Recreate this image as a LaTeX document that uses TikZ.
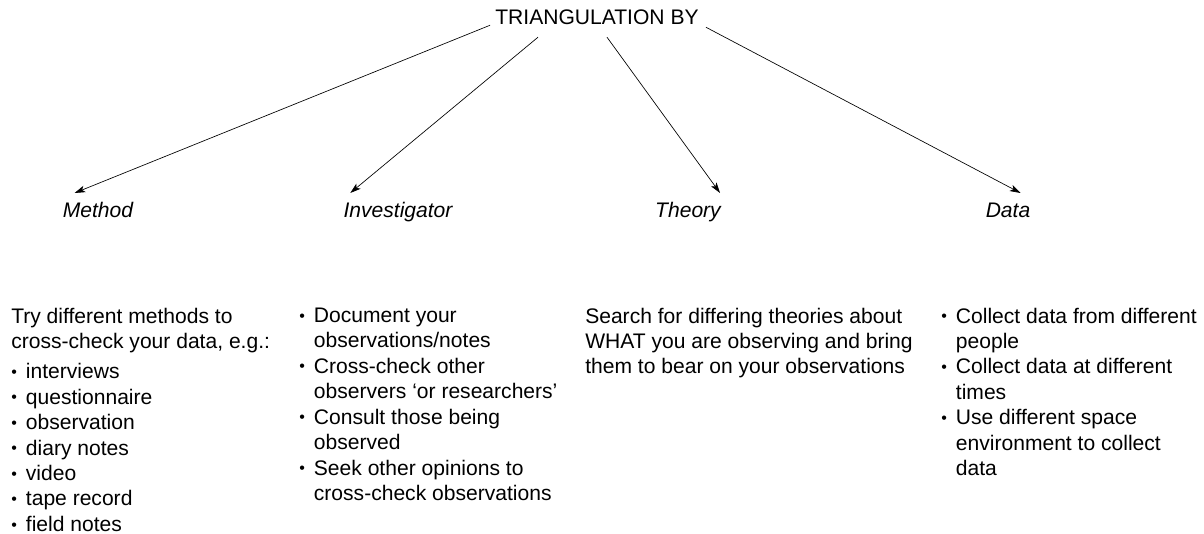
\documentclass[tikz,border=0pt]{standalone}
\usepackage{fontspec}
\setmainfont{Liberation Sans}
\usetikzlibrary{arrows.meta, calc}

% small bullet and the matching indent
\newcommand{\bul}{\makebox[11pt][l]{\raisebox{0.9pt}{\fontsize{12}{12}\selectfont\textbullet}}}
\newcommand{\gap}{\hspace*{11pt}}

\begin{document}
\begin{tikzpicture}[x=0.75pt, y=-0.75pt,
    body/.style={font={\fontsize{15.8}{19.1}\selectfont}, inner sep=0pt},
    branch/.style={font={\fontsize{15.8}{19.1}\selectfont\itshape}, inner sep=0pt, anchor=base},
    block/.style={body, align=left, anchor=north west},
    link/.style={line width=0.5pt, -{Stealth[length=8pt, width=5pt, inset=2pt]}}]
    \useasboundingbox (0,0) rectangle (1204,534);

    % Top of the tree
    \node[body] (title) at (597,17.5) {TRIANGULATION BY};

    % The four kinds, on one baseline
    \node[branch] (method) at (98,218) {Method};
    \node[branch] (investigator) at (398,218) {Investigator};
    \node[branch] (theory) at (688,218) {Theory};
    \node[branch] (data) at (1008,218) {Data};

    % Arrows from the title
    \draw[link] ($(title.south west)+(-5,0)$) -- ($(method.base west)+(12,-25)$);
    \draw[link] ($(title.south)+(-59,12)$) -- ($(investigator.base west)+(7,-25)$);
    \draw[link] ($(title.south)+(10,12)$) -- ($(theory.base east)+(-1,-25)$);
    \draw[link] ($(title.south east)+(7,2)$) -- ($(data.base east)+(-10,-25)$);

    % Text under each kind
    \node[block] (methodtext) at (11,307.5) {Try different methods to\\
        cross-check your data, e.g.:\\[3.5pt]
        \bul interviews\\
        \bul questionnaire\\
        \bul observation\\
        \bul diary notes\\
        \bul video\\
        \bul tape record\\
        \bul field notes};
    \node[block] (investigatortext) at (299,307.5) {\bul Document your\\
        \gap observations/notes\\
        \bul Cross-check other\\
        \gap observers ‘or researchers’\\
        \bul Consult those being\\
        \gap observed\\
        \bul Seek other opinions to\\
        \gap cross-check observations};
    \node[block] (theorytext) at (585,307.5) {Search for differing theories about\\
        WHAT you are observing and bring\\
        them to bear on your observations};
    \node[block] (datatext) at (941,307.5) {\bul Collect data from different\\
        \gap people\\
        \bul Collect data at different\\
        \gap times\\
        \bul Use different space\\
        \gap environment to collect\\
        \gap data};
\end{tikzpicture}
\end{document}
